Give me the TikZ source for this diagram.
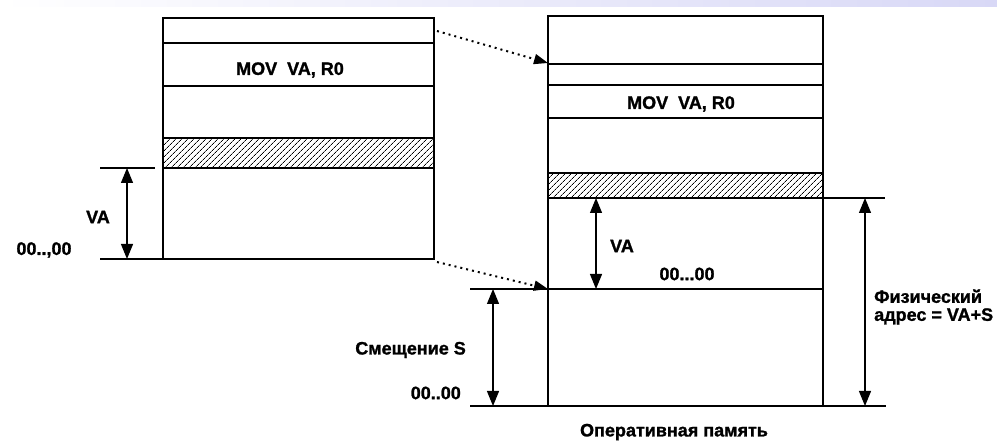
\documentclass[tikz,border=0pt]{standalone}
\usepackage{fontspec}
\setmainfont{Liberation Sans}[FakeBold=1.3]
\usetikzlibrary{arrows.meta,patterns.meta}
\definecolor{band}{RGB}{216,216,246}
\begin{document}
\begin{tikzpicture}[x=1pt,y=-1pt,
  boxline/.style={line width=1.4pt},
  dimarrow/.style={line width=1.2pt,{Triangle[length=15pt,width=12pt]}-{Triangle[length=15pt,width=12pt]}},
  maparrow/.style={line width=2pt,dash pattern=on 2pt off 4pt,-{Triangle[length=14pt,width=10pt]}},
  lbl/.style={font=\fontsize{18}{18}\selectfont\bfseries,inner sep=0pt},
  hatch/.style={pattern={Lines[angle=45,distance=4pt,line width=0.7pt]}}]
\useasboundingbox (0,0) rectangle (997,443);
\shade[left color=white,right color=band] (0,0) rectangle (997,7);

% ---------- left box (virtual address space)
\fill[hatch] (163,138) rectangle (434,168);
\draw[boxline] (163,18) rectangle (434,259);
\draw[boxline] (163,43) -- (434,43);
\draw[boxline] (163,86) -- (434,86);
\draw[boxline] (163,138) -- (434,138);
\draw[boxline] (163,168) -- (434,168);
\node[lbl] (movL) at (290,70) {MOV\ \ VA, R0};

% extension lines left
\draw[boxline] (100,168) -- (155,168);
\draw[boxline] (100,259) -- (163,259);
\coordinate (lvaT) at (127,168);
\coordinate (lvaB) at (127,259);
\draw[dimarrow] (lvaT) -- (lvaB);
\node[lbl] (vaL) at (98,217) {VA};
\node[lbl] (zeroL) at (44,250) {00..,00};

% ---------- right box (main memory)
\fill[hatch] (548,173) rectangle (823,198);
\draw[boxline] (548,16) rectangle (823,406);
\draw[boxline] (548,64) -- (823,64);
\draw[line width=2.6pt] (548,85) -- (823,85);
\draw[boxline] (548,118) -- (823,118);
\draw[boxline] (548,173) -- (823,173);
\draw[boxline] (548,198) -- (823,198);
\draw[boxline] (470,289) -- (823,289);
\node[lbl] (movR) at (681,104) {MOV\ \ VA, R0};

% extension lines right
\draw[boxline] (823,198) -- (885,198);
\draw[boxline] (470,406) -- (886,406);

\coordinate (rvaT) at (596,198);
\coordinate (rvaB) at (596,289);
\draw[dimarrow] (rvaT) -- (rvaB);
\node[lbl] (vaR) at (622,246) {VA};
\node[lbl] (zeroR) at (687,274) {00...00};

\coordinate (sT) at (493,289);
\coordinate (sB) at (493,406);
\draw[dimarrow] (sT) -- (sB);
\node[lbl,anchor=east] (shift) at (466,350) {Смещение S};
\node[lbl,anchor=east] (zeroS) at (461,393) {00..00};

\coordinate (pT) at (865,198);
\coordinate (pB) at (865,406);
\draw[dimarrow] (pT) -- (pB);
\node[lbl,anchor=west,align=left] (phys) at (874,307) {Физический\\адрес = VA+S};

\node[lbl] (ram) at (674,432) {Оперативная память};

% ---------- mapping arrows
\coordinate (m1s) at (437,31);
\coordinate (m1e) at (548,63);
\coordinate (m2s) at (437,262);
\coordinate (m2e) at (548,289);
\draw[maparrow] (m1s) -- (m1e);
\draw[maparrow] (m2s) -- (m2e);
\end{tikzpicture}
\end{document}
